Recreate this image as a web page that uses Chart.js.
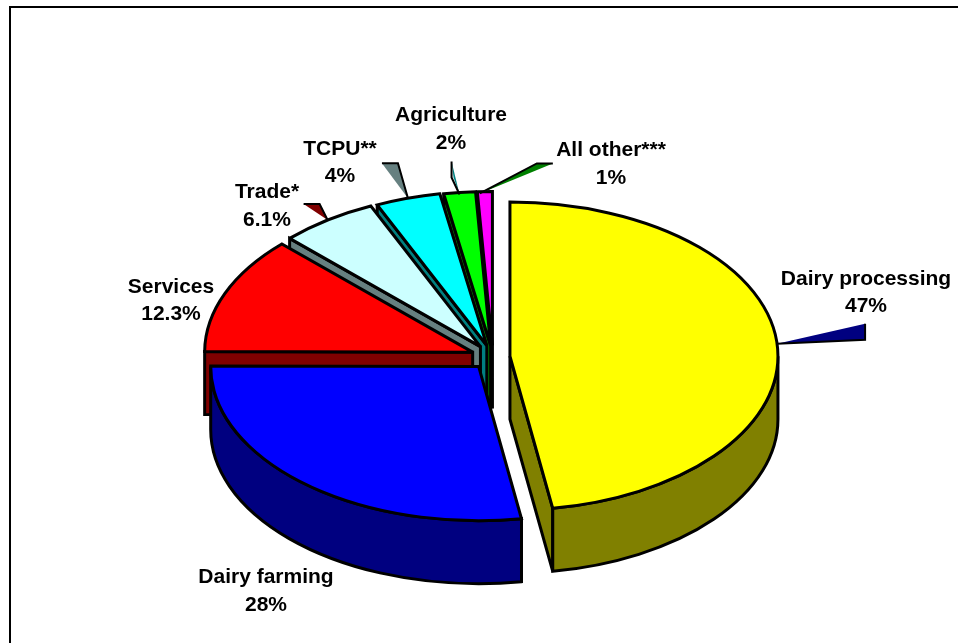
<!DOCTYPE html>
<html>
<head>
<meta charset="utf-8">
<title>Pie chart</title>
<script src="https://cdn.jsdelivr.net/npm/chart.js@4/dist/chart.umd.min.js"></script>
<style>
  html, body { margin: 0; background: #fff; }
  canvas { display: block; }
</style>
</head>
<body>
<canvas id="chart" width="958" height="643"></canvas>
<script>
const categories = ['Dairy processing', 'Dairy farming', 'Services', 'Trade*', 'TCPU**', 'Agriculture', 'All other***']
const shares = [47.4, 27.6, 12.3, 5.9, 3.9, 1.9, 0.9]
const shareLabels = ['47%', '28%', '12.3%', '6.1%', '4%', '2%', '1%']

const topColors = ['#ffff00', '#0000ff', '#ff0000', '#ccffff', '#00ffff', '#00ff00', '#ff00ff']
const sideColors = ['#808000', '#000080', '#800000', '#668080', '#008080', '#008000', '#800080']
const pulls = [17, 22, 22, 22, 21, 20, 20]

const tilt = 0.575
const depth = 63
const outline = 3

// text centres, first line / second line
const labelSpots = [
  [866, 279, 306], [266, 577, 605], [171, 287, 314], [267, 192, 220],
  [340, 149, 176], [451, 115, 143], [611, 150, 178],
]

// wedges from the rim out to a label, given relative to the rim point
const leaders = [
  { slice: 0, fill: '#000080', shape: [[0, 0], [88, -20], [88, -4]], edge: [[0, 0], [88, -4], [88, -20]] },
  { slice: 3, fill: '#800000', shape: [[0, 0], [-24, -16], [-8, -16]], edge: [[-24, -16], [-8, -16], [0, 0]] },
  { slice: 4, fill: '#668080', shape: [[0, 0], [-26, -35], [-10, -35]], edge: [[-26, -35], [-10, -35], [0, 0]] },
  { slice: 5, fill: '#008080', shape: [[0, 2], [-8, -31], [-6, -15]], edge: [[-8, -31], [-8, -15], [0, 2]] },
  { slice: 6, fill: '#008000', shape: [[-5, 2], [52, -28], [68, -28]], edge: [[-5, 2], [52, -28], [68, -28]] },
]

const sliceGeometry = (arc, pull) => {
  const { x, y, startAngle, endAngle, outerRadius } = arc.getProps(['x', 'y', 'startAngle', 'endAngle', 'outerRadius'])
  const mid = (startAngle + endAngle) / 2
  const ox = x + Math.cos(mid) * pull
  const oy = y + Math.sin(mid) * pull * tilt
  return { x, y, startAngle, endAngle, mid, ox, oy, rx: outerRadius, ry: outerRadius * tilt }
}

const drawCutWall = (ctx, g, angle, color) => {
  const px = g.ox + Math.cos(angle) * g.rx
  const py = g.oy + Math.sin(angle) * g.ry
  ctx.beginPath()
  ctx.moveTo(g.ox, g.oy)
  ctx.lineTo(px, py)
  ctx.lineTo(px, py + depth)
  ctx.lineTo(g.ox, g.oy + depth)
  ctx.closePath()
  ctx.fillStyle = color
  ctx.fill()
  ctx.stroke()
}

const drawRimWall = (ctx, g, color) => {
  const from = Math.max(g.startAngle, 0)
  const to = Math.min(g.endAngle, Math.PI)
  if (to <= from) {
    return
  }
  ctx.beginPath()
  ctx.ellipse(g.ox, g.oy, g.rx, g.ry, 0, from, to)
  ctx.ellipse(g.ox, g.oy + depth, g.rx, g.ry, 0, to, from, true)
  ctx.closePath()
  ctx.fillStyle = color
  ctx.fill()
  ctx.stroke()
}

const tracePoints = (ctx, points, tx, ty) => {
  ctx.beginPath()
  points.forEach(([dx, dy], i) => {
    if (i === 0) {
      ctx.moveTo(tx + dx, ty + dy)
    } else {
      ctx.lineTo(tx + dx, ty + dy)
    }
  })
}

const pie3d = {
  id: 'pie3d',
  beforeDraw(chart) {
    const { ctx, width, height } = chart
    ctx.save()
    ctx.fillStyle = '#000'
    ctx.fillRect(9, 6, width - 9, 2)
    ctx.fillRect(9, 6, 2, height - 6)
    ctx.restore()
  },
  beforeDatasetDraw(chart, args) {
    const { ctx } = chart
    const arcs = args.meta.data
    ctx.save()
    ctx.lineWidth = outline
    ctx.lineJoin = 'miter'
    ctx.miterLimit = 2
    ctx.strokeStyle = '#000'
    // back slices first so the front ones cover them
    for (let i = arcs.length - 1; i >= 0; i--) {
      const g = sliceGeometry(arcs[i], pulls[i])
      // only the cut faces turned to the viewer
      if (Math.cos(g.startAngle) < 0) {
        drawCutWall(ctx, g, g.startAngle, sideColors[i])
      }
      if (Math.cos(g.endAngle) > 0) {
        drawCutWall(ctx, g, g.endAngle, sideColors[i])
      }
      drawRimWall(ctx, g, sideColors[i])

      ctx.save()
      ctx.translate(g.ox, g.oy)
      ctx.scale(1, tilt)
      ctx.translate(-g.x, -g.y)
      arcs[i].draw(ctx)
      ctx.restore()

      ctx.beginPath()
      ctx.moveTo(g.ox, g.oy)
      ctx.ellipse(g.ox, g.oy, g.rx, g.ry, 0, g.startAngle, g.endAngle)
      ctx.closePath()
      ctx.stroke()
    }
    ctx.restore()
    return false
  },
  afterDatasetsDraw(chart) {
    const { ctx } = chart
    const arcs = chart.getDatasetMeta(0).data
    ctx.save()
    ctx.lineWidth = 2
    ctx.strokeStyle = '#000'
    leaders.forEach((l) => {
      const g = sliceGeometry(arcs[l.slice], pulls[l.slice])
      const tx = g.ox + Math.cos(g.mid) * g.rx
      const ty = g.oy + Math.sin(g.mid) * g.ry
      tracePoints(ctx, l.shape, tx, ty)
      ctx.closePath()
      ctx.fillStyle = l.fill
      ctx.fill()
      tracePoints(ctx, l.edge, tx, ty)
      ctx.stroke()
    })

    ctx.fillStyle = '#000'
    ctx.font = 'bold 21px "Liberation Sans", Arial, sans-serif'
    ctx.textAlign = 'center'
    ctx.textBaseline = 'middle'
    categories.forEach((name, i) => {
      const [cx, y1, y2] = labelSpots[i]
      ctx.fillText(name, cx, y1)
      ctx.fillText(shareLabels[i], cx, y2)
    })
    ctx.restore()
  },
}

new Chart(document.getElementById('chart'), {
  type: 'pie',
  plugins: [pie3d],
  data: {
    labels: categories,
    datasets: [{
      data: shares,
      backgroundColor: topColors,
      borderWidth: 0,
      hoverOffset: 0,
    }],
  },
  options: {
    responsive: false,
    animation: false,
    radius: 268,
    layout: { padding: { left: 28, top: 71 } },
    events: [],
    plugins: {
      legend: { display: false },
      tooltip: { enabled: false },
    },
  },
})
</script>
</body>
</html>
